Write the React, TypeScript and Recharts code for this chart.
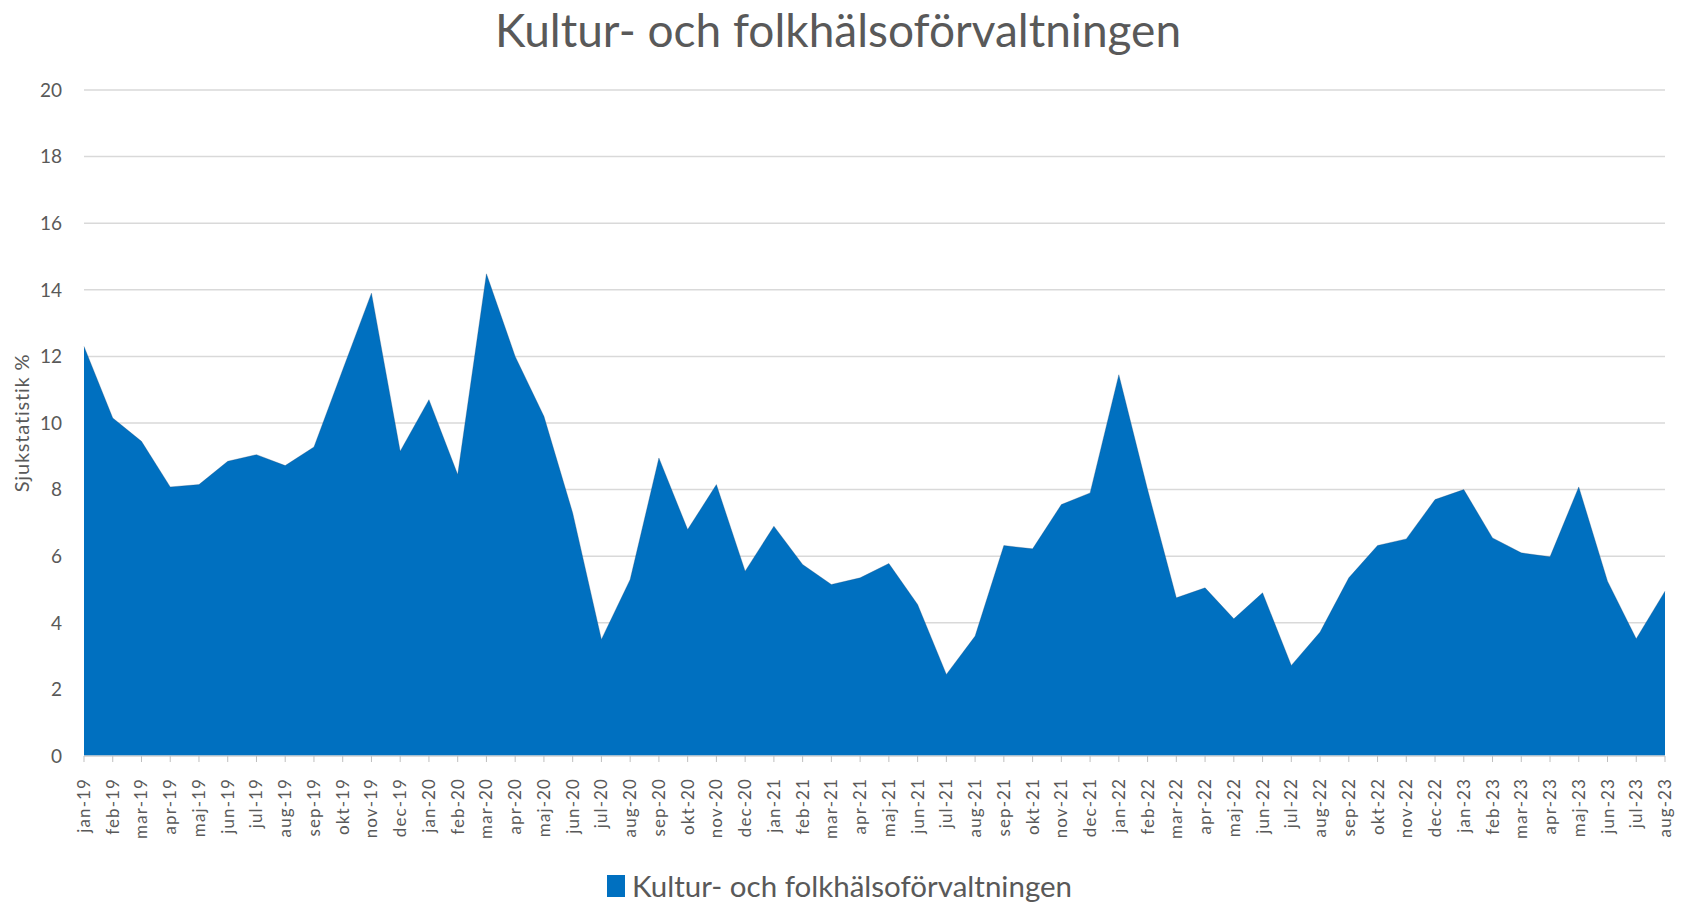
import React from 'react';
import { AreaChart, Area, XAxis, YAxis, CartesianGrid } from 'recharts';

const months = [
  'jan-19', 'feb-19', 'mar-19', 'apr-19', 'maj-19', 'jun-19', 'jul-19', 'aug-19', 'sep-19', 'okt-19', 'nov-19', 'dec-19',
  'jan-20', 'feb-20', 'mar-20', 'apr-20', 'maj-20', 'jun-20', 'jul-20', 'aug-20', 'sep-20', 'okt-20', 'nov-20', 'dec-20',
  'jan-21', 'feb-21', 'mar-21', 'apr-21', 'maj-21', 'jun-21', 'jul-21', 'aug-21', 'sep-21', 'okt-21', 'nov-21', 'dec-21',
  'jan-22', 'feb-22', 'mar-22', 'apr-22', 'maj-22', 'jun-22', 'jul-22', 'aug-22', 'sep-22', 'okt-22', 'nov-22', 'dec-22',
  'jan-23', 'feb-23', 'mar-23', 'apr-23', 'maj-23', 'jun-23', 'jul-23', 'aug-23',
];

const sickLeave = [
  12.3, 10.15, 9.45, 8.08, 8.15, 8.85, 9.05, 8.72, 9.28, 11.6, 13.9, 9.15,
  10.7, 8.45, 14.48, 12.0, 10.2, 7.3, 3.5, 5.3, 8.95, 6.8, 8.15, 5.55,
  6.9, 5.75, 5.15, 5.35, 5.78, 4.55, 2.45, 3.6, 6.32, 6.22, 7.55, 7.9,
  11.45, 8.0, 4.75, 5.05, 4.12, 4.9, 2.72, 3.72, 5.35, 6.32, 6.52, 7.7,
  8.0, 6.55, 6.1, 5.98, 8.08, 5.25, 3.52, 4.95,
];

const yTicks = [0, 2, 4, 6, 8, 10, 12, 14, 16, 18, 20];

const seriesName = 'Kultur- och folkhälsoförvaltningen';

const data = months.map((m, i) => ({ month: m, value: sickLeave[i] }));

const FONT = 'Lato, "Open Sans", sans-serif';
const GREY = '#595959';

const MonthTick = (props: any) => {
  const { x, y, payload } = props;
  return (
    <text
      x={0}
      y={0}
      transform={`translate(${x + 6},${y + 14}) rotate(-90)`}
      textAnchor="end"
      fontSize={17}
      letterSpacing={1.1}
      fill={GREY}
      fontFamily={FONT}
    >
      {payload.value}
    </text>
  );
};

export default function App() {
  return (
    <div style={{ position: 'absolute', left: 0, top: 0, width: 1690, height: 904, background: '#fff', fontFamily: FONT }}>
      <div
        style={{
          position: 'absolute',
          left: 0,
          width: 1676,
          top: 2,
          textAlign: 'center',
          fontSize: 46,
          color: GREY,
          lineHeight: '56px',
        }}
      >
        {seriesName}
      </div>
      <AreaChart width={1690} height={904} data={data} margin={{ top: 90, right: 25, left: 24, bottom: 0 }}>
        <CartesianGrid vertical={false} stroke="#d9d9d9" strokeWidth={1.5} />
        <XAxis
          dataKey="month"
          interval={0}
          height={148}
          tick={<MonthTick />}
          axisLine={{ stroke: '#d9d9d9', strokeWidth: 1.5 }}
          tickLine={{ stroke: '#bfbfbf' }}
          tickSize={6}
        />
        <YAxis
          domain={[0, 20]}
          ticks={yTicks}
          width={60}
          axisLine={false}
          tickLine={false}
          tickSize={0}
          tickMargin={22}
          tick={{ fontSize: 19, fill: GREY, fontFamily: FONT }}
          label={{
            value: 'Sjukstatistik %',
            angle: -90,
            position: 'insideLeft',
            offset: -2,
            style: { textAnchor: 'middle', fontSize: 20, letterSpacing: 0.8, fill: GREY, fontFamily: FONT },
          }}
        />
        <Area
          type="linear"
          dataKey="value"
          name={seriesName}
          stroke="#1f4e79"
          strokeWidth={0.6}
          strokeOpacity={0.5}
          fill="#0070c0"
          fillOpacity={1}
          isAnimationActive={false}
        />
      </AreaChart>
      <div
        style={{
          position: 'absolute',
          left: 607,
          top: 868,
          display: 'flex',
          alignItems: 'center',
          fontSize: 29.5,
          color: GREY,
          lineHeight: '36px',
        }}
      >
        <span style={{ display: 'inline-block', width: 18, height: 22, background: '#0070c0', marginRight: 7 }} />
        <span>{seriesName}</span>
      </div>
    </div>
  );
}
